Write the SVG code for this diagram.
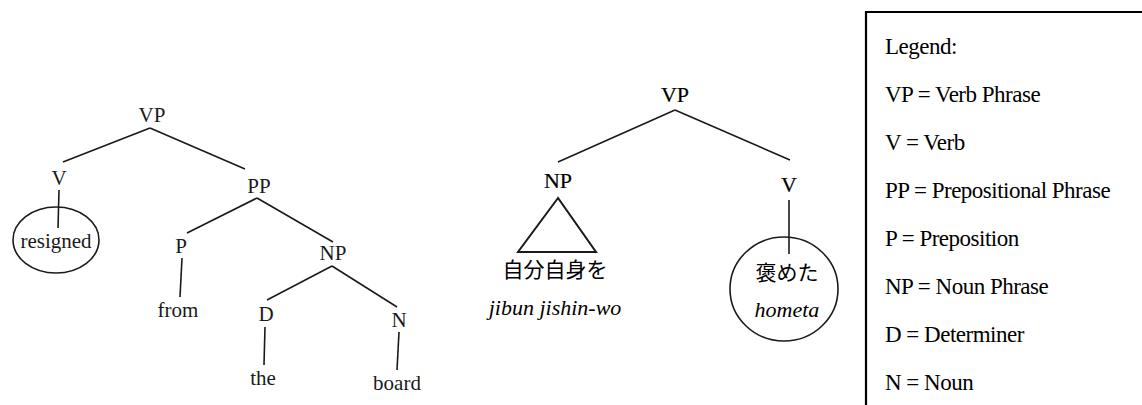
<svg xmlns="http://www.w3.org/2000/svg" width="1142" height="405" viewBox="0 0 1142 405">
<style>
.t{font-family:"Liberation Serif","Times New Roman",serif;font-size:21px;fill:#1a1a1a;text-anchor:middle}
.r{font-family:"Liberation Serif","Times New Roman",serif;font-size:22px;fill:#000;text-anchor:middle}
.b{stroke:#000;stroke-width:0.2}
.i{font-style:italic}
.j{font-family:"Noto Sans CJK JP",sans-serif;font-size:21px;fill:#000;text-anchor:middle}
.lg{font-family:"Liberation Serif","Times New Roman",serif;font-size:23px;fill:#000;letter-spacing:-0.5px}
.e line,.e polygon,.e ellipse{stroke:#1a1a1a;stroke-width:1.6;fill:none}
</style>
<rect width="1142" height="405" fill="#fff"/>
<g id="connectors" class="e">
<line x1="150" y1="128" x2="63" y2="162"/>
<line x1="150" y1="128" x2="245" y2="169"/>
<line x1="59" y1="190" x2="58" y2="228"/>
<line x1="257" y1="198" x2="187" y2="233"/>
<line x1="257" y1="198" x2="333" y2="242"/>
<line x1="182" y1="258" x2="180" y2="297"/>
<line x1="332" y1="266" x2="267" y2="300"/>
<line x1="332" y1="266" x2="397" y2="307"/>
<line x1="265" y1="327" x2="264" y2="365"/>
<line x1="399" y1="332" x2="397" y2="370"/>
<line x1="675" y1="110" x2="558" y2="162"/>
<line x1="675" y1="110" x2="790" y2="160"/>
<line x1="789" y1="200" x2="789" y2="254"/>
</g>
<g id="L-VP"><text class="t" x="152" y="122">VP</text></g>
<g id="L-V"><text class="t" x="59" y="185">V</text></g>
<g id="L-resigned" class="e"><ellipse cx="56" cy="240" rx="43" ry="33"/><text class="t" x="56" y="248" style="stroke:none">resigned</text></g>
<g id="L-PP"><text class="t" x="259" y="193">PP</text></g>
<g id="L-P"><text class="t" x="181" y="253">P</text></g>
<g id="L-from"><text class="t" x="178" y="317">from</text></g>
<g id="L-NP"><text class="t" x="333" y="260">NP</text></g>
<g id="L-D"><text class="t" x="266" y="321">D</text></g>
<g id="L-the"><text class="t" x="263" y="385">the</text></g>
<g id="L-N"><text class="t" x="399" y="327">N</text></g>
<g id="L-board"><text class="t" x="397" y="390">board</text></g>
<g id="R-VP"><text class="r b" x="675" y="102">VP</text></g>
<g id="R-NP" class="e"><text class="r b" x="558" y="188">NP</text><polygon points="558,198 518,252 596,252" style="stroke-width:2"/></g>
<g id="R-jibun"><text class="j" x="555" y="277">自分自身を</text><text class="r i" x="555" y="315">jibun jishin-wo</text></g>
<g id="R-V"><text class="r b" x="789" y="192">V</text></g>
<g id="R-hometa" class="e"><ellipse cx="784" cy="289" rx="54" ry="52"/><text class="j" x="787" y="280" style="stroke:none">褒めた</text><text class="r i" x="787" y="317" style="stroke:none">hometa</text></g>
<g id="legend">
<path d="M866,405 V12 H1142" fill="none" stroke="#000" stroke-width="2.2"/>
<text class="lg" x="885" y="54">Legend:</text>
<text class="lg" x="885" y="102">VP = Verb Phrase</text>
<text class="lg" x="885" y="150">V = Verb</text>
<text class="lg" x="885" y="198">PP = Prepositional Phrase</text>
<text class="lg" x="885" y="246">P = Preposition</text>
<text class="lg" x="885" y="294">NP = Noun Phrase</text>
<text class="lg" x="885" y="342">D = Determiner</text>
<text class="lg" x="885" y="390">N = Noun</text>
</g>
</svg>
